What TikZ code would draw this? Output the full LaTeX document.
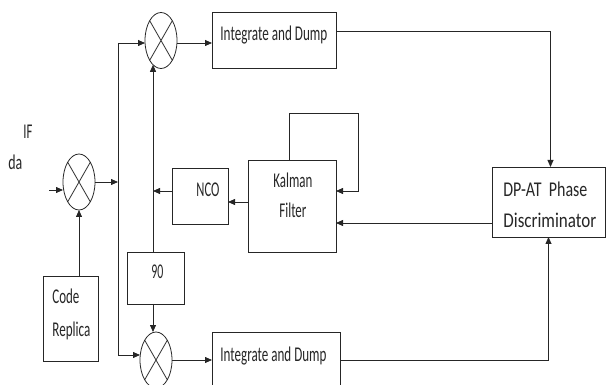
\documentclass[tikz,border=0pt]{standalone}
\usepackage{fontspec}
\setmainfont{Carlito}
\usetikzlibrary{arrows.meta,shapes.geometric}
\newcommand\fitw[2]{\resizebox{#1pt}{\height}{#2}}
\begin{document}
\begin{tikzpicture}[x=1pt,y=-1pt,
  line width=0.8pt, color=black!85,
  box/.style={draw, rectangle, inner sep=0pt, outer sep=0pt},
  mix/.style={draw, ellipse, minimum width=32pt, minimum height=56pt, inner sep=0pt, outer sep=0pt},
  lbl/.style={anchor=base west, inner sep=0pt, font=\fontsize{21}{25}\selectfont},
  arr/.style={-{Triangle[length=7pt,width=6pt]}}]
\useasboundingbox (0,0) rectangle (606,385);
\clip (0,0) rectangle (606,385);

% mixers
\node[mix] (M0) at (79,182) {};
\node[mix] (M1) at (161,40.5) {};
\node[mix] (M2) at (156,360) {};
\foreach \m in {M0,M1,M2}{
  \draw (\m.north west) -- (\m.south east) (\m.north east) -- (\m.south west);
}

% boxes
\node[box, minimum width=124pt, minimum height=56pt] (ID1) at (274,40) {};
\node[box, minimum width=128pt, minimum height=56pt] (ID2) at (276,360) {};
\node[box, minimum width=88pt, minimum height=92pt] (KF) at (292,206) {};
\node[box, minimum width=56pt, minimum height=56pt] (NCO) at (200,196) {};
\node[box, minimum width=113pt, minimum height=70pt] (Disc) at (548.5,202) {};
\node[box, minimum width=57pt, minimum height=52pt] (P90) at (155.5,278) {};
\node[box, minimum width=55pt, minimum height=85pt] (CR) at (70.5,318.5) {};

% texts
\node[lbl] (tIF) at (23,139) {\fitw{9}{IF}};
\node[lbl] (tda) at (8,170) {\fitw{14}{da}};
\node[lbl] (tID1) at (220,41) {\fitw{107}{Integrate and Dump}};
\node[lbl] (tID2) at (220,361) {\fitw{106}{Integrate and Dump}};
\node[lbl] (tK1) at (273,188) {\fitw{39}{Kalman}};
\node[lbl] (tK2) at (279,218) {\fitw{27}{Filter}};
\node[lbl] (tNCO) at (196,197) {\fitw{23}{NCO}};
\node[lbl] (tD1) at (503,197) {\fitw{84}{DP-AT\ \ Phase}};
\node[lbl] (tD2) at (503,228) {\fitw{93}{Discriminator}};
\node[lbl] (t90) at (151,279) {\fitw{12}{90}};
\node[lbl] (tC1) at (52,304) {\fitw{27}{Code}};
\node[lbl] (tC2) at (52,336) {\fitw{38}{Replica}};

% coordinates
\coordinate (in0) at (49,190);
\coordinate (vt) at (118,43);
\coordinate (vb) at (118,355);
\coordinate (m1in) at (153,64.8);
\coordinate (loop) at (358,113);

% connectors
\draw[arr] (in0) -- (in0 -| M0.west);
\draw[arr] (M0.east) -- (M0.east -| vt);
\draw (vt) -- (vb);
\draw[arr] (vt) -- (vt -| M1.west);
\draw[arr] (vb) -- (vb -| M2.west);
\draw[arr] (vt -| M1.east) -- (vt -| ID1.west);
\draw[arr] (M2.east) -- (M2.east -| ID2.west);
\draw[arr] ([yshift=9pt]ID1.east) -| ([xshift=2pt]Disc.north);
\draw[arr] (ID2.east) -| (Disc.south);
\draw[arr] ([yshift=-21pt]Disc.west) -- ([yshift=-21pt]Disc.west -| KF.east);
\draw[arr] ([xshift=-3pt]KF.north) |- (loop) |- ([yshift=15pt]KF.east);
\draw[arr] ([yshift=4pt]KF.west) -- ([yshift=4pt]KF.west -| NCO.east);
\draw[arr] ([yshift=5pt]NCO.west) -- ([yshift=5pt]NCO.west -| m1in);
\draw[arr] ([xshift=-2.5pt]P90.north) -- (m1in);
\draw[arr] ([xshift=-2.5pt]P90.south) -- ([xshift=-2.5pt]P90.south |- M2.north);
\draw[arr] (CR.north -| M0.south) -- (M0.south);
\end{tikzpicture}
\end{document}
